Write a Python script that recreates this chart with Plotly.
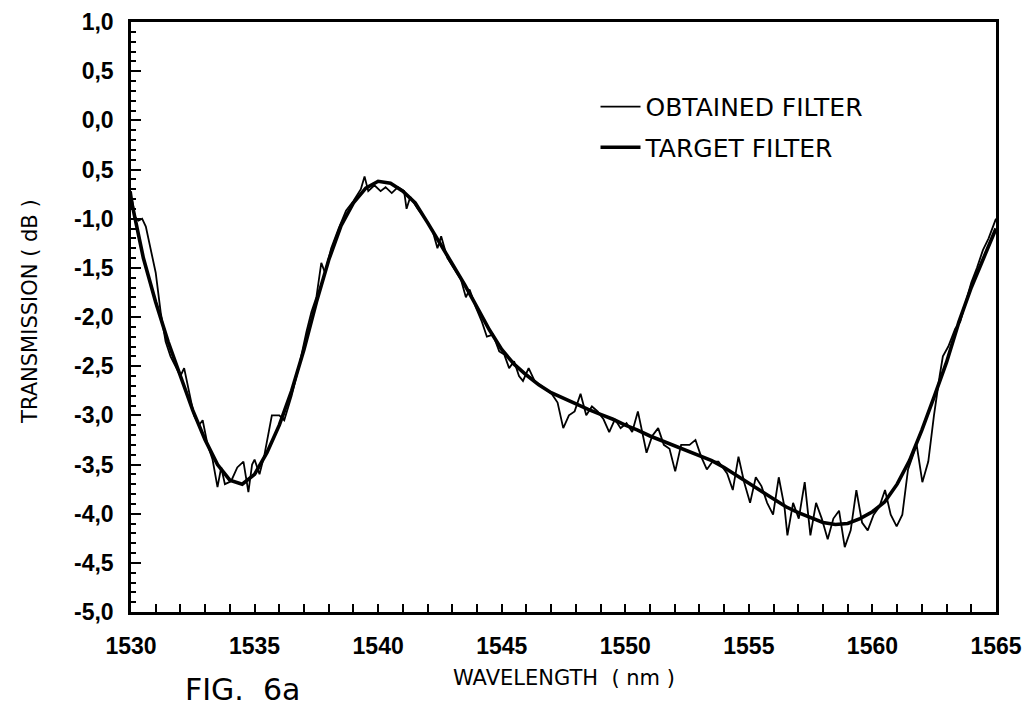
import plotly.graph_objects as go

# ---- data ----
target_wl = [1530.0, 1530.5, 1531.0, 1531.5, 1532.0, 1532.5, 1533.0, 1533.5, 1534.0, 1534.5,
             1535.0, 1535.5, 1536.0, 1536.5, 1537.0, 1537.5, 1538.0, 1538.5, 1539.0, 1539.5,
             1540.0, 1540.5, 1541.0, 1541.5, 1542.0, 1542.5, 1543.0, 1543.5, 1544.0, 1544.5,
             1545.0, 1545.5, 1546.0, 1546.5, 1547.0, 1547.5, 1548.0, 1548.5, 1549.0, 1549.5,
             1550.0, 1550.5, 1551.0, 1551.5, 1552.0, 1552.5, 1553.0, 1553.5, 1554.0, 1554.5,
             1555.0, 1555.5, 1556.0, 1556.5, 1557.0, 1557.5, 1558.0, 1558.5, 1559.0, 1559.5,
             1560.0, 1560.5, 1561.0, 1561.5, 1562.0, 1562.5, 1563.0, 1563.5, 1564.0, 1564.5,
             1565.0]
target_db = [-0.80, -1.40, -1.85, -2.25, -2.60, -2.95, -3.25, -3.50, -3.66, -3.70,
             -3.60, -3.38, -3.10, -2.75, -2.33, -1.85, -1.42, -1.07, -0.84, -0.69,
             -0.62, -0.64, -0.72, -0.84, -1.04, -1.25, -1.46, -1.67, -1.90, -2.13,
             -2.33, -2.48, -2.59, -2.69, -2.77, -2.83, -2.89, -2.94, -2.99, -3.04,
             -3.10, -3.15, -3.21, -3.26, -3.31, -3.36, -3.41, -3.46, -3.53, -3.61,
             -3.69, -3.78, -3.86, -3.93, -3.99, -4.04, -4.09, -4.11, -4.10, -4.05,
             -3.98, -3.88, -3.70, -3.46, -3.15, -2.81, -2.46, -2.05, -1.70, -1.40,
             -1.10]

obtained_wl = [1530.00, 1530.15, 1530.30, 1530.45, 1530.60, 1530.80, 1531.00, 1531.20, 1531.40, 1531.60,
               1531.80, 1532.00, 1532.15, 1532.35, 1532.55, 1532.75, 1532.90, 1533.10, 1533.30, 1533.50,
               1533.65, 1533.80, 1534.05, 1534.30, 1534.55, 1534.75, 1534.90, 1535.00, 1535.20, 1535.40,
               1535.70, 1536.00, 1536.20, 1536.50, 1536.80, 1537.10, 1537.30, 1537.50, 1537.70, 1537.85,
               1538.10, 1538.40, 1538.70, 1539.00, 1539.30, 1539.45, 1539.60, 1539.85, 1540.10, 1540.30,
               1540.55, 1540.80, 1541.05, 1541.15, 1541.30, 1541.60, 1541.90, 1542.20, 1542.40, 1542.55,
               1542.80, 1543.10, 1543.35, 1543.55, 1543.70, 1543.95, 1544.20, 1544.40, 1544.65, 1544.90,
               1545.10, 1545.30, 1545.50, 1545.70, 1545.86, 1546.09, 1546.33, 1547.02, 1547.26, 1547.49,
               1547.72, 1547.95, 1548.19, 1548.42, 1548.65, 1548.88, 1549.12, 1549.35, 1549.58, 1549.81,
               1550.05, 1550.28, 1550.51, 1550.86, 1551.09, 1551.33, 1551.56, 1551.79, 1552.02, 1552.26,
               1552.60, 1552.84, 1553.07, 1553.30, 1553.53, 1553.77, 1554.12, 1554.35, 1554.58, 1554.81,
               1555.05, 1555.28, 1555.51, 1555.74, 1555.98, 1556.21, 1556.44, 1556.56, 1556.79, 1557.02,
               1557.26, 1557.49, 1557.72, 1557.95, 1558.19, 1558.42, 1558.65, 1558.88, 1559.12, 1559.35,
               1559.58, 1559.81, 1560.05, 1560.28, 1560.51, 1560.74, 1560.98, 1561.21, 1561.44, 1561.79,
               1562.02, 1562.26, 1562.49, 1562.72, 1562.85, 1563.07, 1563.35, 1563.55, 1563.77, 1564.00,
               1564.23, 1564.47, 1564.70, 1565.00]
obtained_db = [-0.72, -0.98, -1.02, -1.00, -1.08, -1.30, -1.55, -1.95, -2.25, -2.40,
               -2.50, -2.60, -2.52, -2.75, -3.00, -3.10, -3.05, -3.30, -3.45, -3.73,
               -3.53, -3.70, -3.67, -3.53, -3.47, -3.78, -3.50, -3.45, -3.60, -3.40,
               -3.00, -3.00, -3.05, -2.80, -2.50, -2.15, -1.95, -1.80, -1.45, -1.55,
               -1.30, -1.10, -0.92, -0.82, -0.70, -0.57, -0.72, -0.66, -0.72, -0.68,
               -0.74, -0.68, -0.72, -0.90, -0.78, -0.90, -1.00, -1.12, -1.30, -1.18,
               -1.40, -1.52, -1.62, -1.80, -1.72, -1.90, -2.05, -2.20, -2.18, -2.35,
               -2.38, -2.52, -2.45, -2.60, -2.65, -2.52, -2.65, -2.78, -2.87, -3.13,
               -3.00, -2.96, -2.78, -3.00, -2.91, -2.96, -3.04, -3.17, -3.04, -3.13,
               -3.08, -3.17, -2.96, -3.38, -3.21, -3.13, -3.30, -3.34, -3.57, -3.30,
               -3.30, -3.25, -3.42, -3.55, -3.47, -3.47, -3.59, -3.76, -3.42, -3.68,
               -3.89, -3.63, -3.72, -3.89, -4.01, -3.63, -3.93, -4.22, -3.89, -4.05,
               -3.68, -4.22, -3.89, -4.05, -4.26, -4.05, -3.97, -4.34, -4.17, -3.76,
               -4.09, -4.17, -4.01, -3.93, -3.76, -4.01, -4.13, -4.01, -3.55, -3.30,
               -3.68, -3.47, -3.00, -2.60, -2.40, -2.30, -2.12, -2.05, -1.85, -1.65,
               -1.50, -1.32, -1.20, -1.00]

x_tick_vals = [1530, 1535, 1540, 1545, 1550, 1555, 1560, 1565]
x_tick_text = ["1530", "1535", "1540", "1545", "1550", "1555", "1560", "1565"]
y_tick_vals = [1.0, 0.5, 0.0, -0.5, -1.0, -1.5, -2.0, -2.5, -3.0, -3.5, -4.0, -4.5, -5.0]
y_tick_text = ["1,0", "0,5", "0,0", "0,5", "-1,0", "-1,5", "-2,0", "-2,5", "-3,0", "-3,5",
               "-4,0", "-4,5", "-5,0"]

TICKFONT = "Liberation Sans, Arial, sans-serif"
TEXTFONT = "DejaVu Sans, sans-serif"

fig = go.Figure()
fig.add_trace(go.Scatter(x=obtained_wl, y=obtained_db, mode="lines", name="OBTAINED FILTER",
                         legendgroup="obtained",
                         line=dict(color="black", width=1.8)))
fig.add_trace(go.Scatter(x=target_wl, y=target_db, mode="lines", name="TARGET FILTER",
                         legendgroup="target",
                         line=dict(color="black", width=3.6)))

fig.update_layout(
    width=1023, height=707,
    margin=dict(l=131, r=27, t=22, b=95, autoexpand=False),
    paper_bgcolor="white", plot_bgcolor="white",
    font=dict(family=TEXTFONT, color="black"),
    showlegend=True,
    legend=dict(x=0.537, y=0.895, xanchor="left", yanchor="top",
                bgcolor="rgba(0,0,0,0)", font=dict(size=25, family=TEXTFONT),
                tracegroupgap=5, itemwidth=40),
    xaxis=dict(range=[1530, 1565], tickvals=x_tick_vals, ticktext=x_tick_text,
               automargin=False,
               showgrid=False, zeroline=False, showline=True, linecolor="black",
               linewidth=2.5, mirror=True, ticks="inside", ticklen=8, tickwidth=2,
               tickcolor="black", ticklabelstandoff=12,
               tickfont=dict(size=23, family=TICKFONT, weight="bold"),
               minor=dict(dtick=1, ticks="inside", ticklen=8, tickwidth=2, tickcolor="black")),
    yaxis=dict(range=[-5.0, 1.0], tickvals=y_tick_vals, ticktext=y_tick_text,
               automargin=False,
               showgrid=False, zeroline=False, showline=True, linecolor="black",
               linewidth=2.5, mirror=True, ticks="inside", ticklen=10, tickwidth=2,
               tickcolor="black", ticklabelstandoff=10,
               tickfont=dict(size=23, family=TICKFONT, weight="bold"),
               minor=dict(dtick=0.1, ticks="inside", ticklen=5, tickwidth=1.5, tickcolor="black")),
    annotations=[
        dict(text="TRANSMISSION ( dB )", xref="paper", yref="paper", x=-0.117, y=0.51,
             textangle=-90, showarrow=False, font=dict(size=21, family=TEXTFONT),
             xanchor="center", yanchor="middle"),
        dict(text="WAVELENGTH  ( nm )", xref="paper", yref="paper", x=0.5, y=-0.112,
             showarrow=False, font=dict(size=21, family=TEXTFONT),
             xanchor="center", yanchor="middle"),
        dict(text="FIG.  6a", xref="paper", yref="paper", x=0.06, y=-0.098,
             showarrow=False, font=dict(size=30, family=TEXTFONT),
             xanchor="left", yanchor="top"),
    ],
)

# remove the default page margin so the 1023x707 figure fills the window exactly
fig.write_html("out.html",
               config={"displayModeBar": False},
               post_script="document.body.style.margin='0';document.body.style.overflow='hidden';")
